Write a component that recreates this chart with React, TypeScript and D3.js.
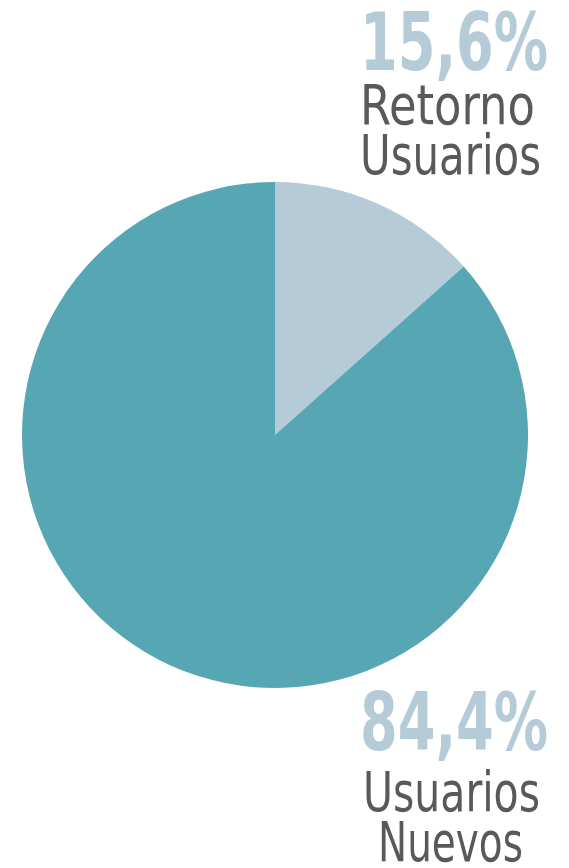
import React from "react";
import * as d3 from "d3";

// Slice shares as drawn in the reference (angle)
const categories = ["Retorno Usuarios", "Usuarios Nuevos"];
const sliceValues = [13.4, 86.6];
const percentLabels = ["15,6%", "84,4%"];
const nameLines = [["Retorno", "Usuarios"], ["Usuarios", "Nuevos"]];
const colors = ["#b5ccd8", "#57a6b4"];

const W = 569;
const H = 868;

type Line = { text: string; x: number; y: number; w: number; bold: boolean; size: number; fill: string };

export default function App() {
  const cx = 275;
  const cy = 435;
  const r = 253;
  const pie = d3.pie<number>().sort(null).value((d) => d);
  const arcs = pie(sliceValues);
  const arc = d3.arc<d3.PieArcDatum<number>>().innerRadius(0).outerRadius(r);
  const font = "'DejaVu Sans Condensed', 'Liberation Sans Narrow', sans-serif";
  const gray = "#58595b";

  const lines: Line[] = [
    { text: percentLabels[0], x: 360, y: 70, w: 188, bold: true, size: 80, fill: colors[0] },
    { text: nameLines[0][0], x: 360, y: 124, w: 175, bold: false, size: 55, fill: gray },
    { text: nameLines[0][1], x: 360, y: 174, w: 181, bold: false, size: 55, fill: gray },
    { text: percentLabels[1], x: 360, y: 750, w: 188, bold: true, size: 80, fill: colors[0] },
    { text: nameLines[1][0], x: 363, y: 811, w: 177, bold: false, size: 55, fill: gray },
    { text: nameLines[1][1], x: 378, y: 861, w: 145, bold: false, size: 55, fill: gray },
  ];

  return (
    <svg width={W} height={H} style={{ position: "absolute", left: 0, top: 0, background: "#fff" }}>
      <g transform={`translate(${cx},${cy})`}>
        {arcs.map((a, i) => (
          <path key={categories[i]} d={arc(a) || ""} fill={colors[i]} />
        ))}
      </g>
      {lines.map((l, i) => (
        <text
          key={i}
          x={l.x}
          y={l.y}
          textLength={l.w}
          lengthAdjust="spacingAndGlyphs"
          fontFamily={font}
          fontWeight={l.bold ? "bold" : "normal"}
          fontSize={l.size}
          fill={l.fill}
        >
          {l.text}
        </text>
      ))}
    </svg>
  );
}
